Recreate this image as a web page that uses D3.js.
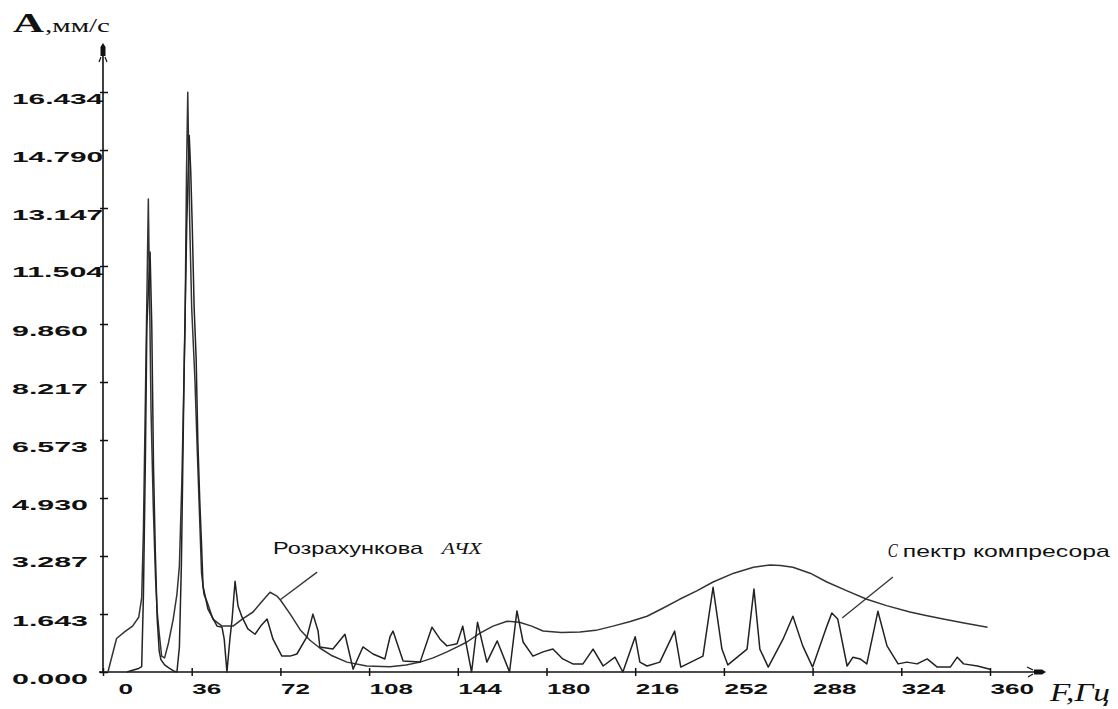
<!DOCTYPE html>
<html>
<head>
<meta charset="utf-8">
<script src="https://cdn.jsdelivr.net/npm/d3@7"></script>
<style>
  body { margin: 0; background: #fff; }
</style>
</head>
<body>
<div id="chart"></div>
<script>
// tick labels as printed on the original plot
const yTickLabels = ["0.000", "1.643", "3.287", "4.930", "6.573", "8.217", "9.860", "11.504", "13.147", "14.790", "16.434"];
const xTickValues = [0, 36, 72, 108, 144, 180, 216, 252, 288, 324, 360];

// calculated frequency response (Розрахункова АЧХ)
const respHz = [2, 5.5, 9, 12, 14.5, 15.7, 16.4, 17.2, 18.4, 19.5,
  20.4, 21.3, 22, 22.8, 23.8, 25, 26.5, 28.5, 30, 31,
  32, 32.6, 33.3, 33.9, 34.4, 35.2, 36, 37.3, 38.3, 39,
  40, 41, 42.2, 44.6, 48.3, 52.8, 56.5, 60.9, 64.5, 67.8,
  70.6, 72, 76, 80, 84, 88, 93, 99, 107, 116.5,
  123, 128.7, 134, 139.6, 144, 147.7, 153, 158.3, 164, 169,
  174, 178.6, 186, 193.6, 200, 207, 214, 220.8, 227, 234,
  241, 247.6, 256, 264, 270.7, 275, 280, 287, 293.8, 302,
  310, 318, 327.5, 334, 341, 350, 359];
const respAmp = [0, 0.95, 1.15, 1.3, 1.55, 2.1, 4.0, 7.7, 13.4, 7.4,
  4.7, 2.7, 1.7, 1.1, 0.45, 0.4, 0.8, 1.5, 2.2, 3.0,
  5.4, 7.4, 9.8, 14.2, 16.43, 12.7, 10.3, 8.3, 6.2, 4.8,
  2.8, 2.2, 2.0, 1.5, 1.3, 1.3, 1.5, 1.7, 2.0, 2.26,
  2.15, 2.04, 1.64, 1.2, 0.9, 0.68, 0.46, 0.28, 0.17, 0.15,
  0.2, 0.28, 0.4, 0.57, 0.72, 0.85, 1.1, 1.3, 1.44, 1.41,
  1.3, 1.16, 1.12, 1.13, 1.18, 1.3, 1.43, 1.58, 1.8, 2.06,
  2.3, 2.55, 2.8, 2.97, 3.03, 3.02, 2.97, 2.8, 2.55, 2.3,
  2.06, 1.88, 1.7, 1.6, 1.5, 1.38, 1.27];

// measured compressor spectrum (Спектр компресора)
const specHz = [9.7, 12, 14.5, 15.7, 16.4, 17.2, 17.8, 19.1, 19.8, 20.5,
  21.2, 22, 22.8, 23.5, 25, 27, 29, 30, 31, 31.8,
  32.3, 33, 34, 35, 35.6, 36.2, 37, 37.8, 38.5, 39.3,
  40, 40.6, 42.6, 46.3, 48.3, 49.2, 50.3, 51.5, 52.4, 53.6,
  54.8, 56.4, 58.8, 61.7, 64, 66.6, 69, 72.6, 75.9, 78.7,
  82.8, 85.2, 87.3, 88, 93.3, 98.2, 101.5, 105.5, 109.6, 114.4,
  116.5, 117.7, 121.8, 128.7, 133.5, 136.8, 139.6, 143.7, 146, 149.6,
  152, 155.8, 160, 165, 168, 170.5, 174.5, 178.6, 182.6, 186.6,
  190.7, 194.8, 198.9, 203, 207.8, 211, 216, 217.9, 220.8, 226,
  232, 234.5, 243.5, 247.6, 251.2, 253.6, 261.4, 264.2, 266.6, 270,
  276, 280, 284, 288, 293.8, 295.8, 298.2, 302, 304.4, 307.3,
  310, 314.5, 318.2, 322.7, 326.3, 330.4, 334.5, 338.6, 343.9, 346.7,
  349.3, 354.9, 360];
const specAmp = [0, 0.05, 0.1, 0.15, 2.15, 6.0, 9.8, 11.9, 9.8, 5.8,
  3.5, 1.5, 0.6, 0.35, 0.2, 0.1, 0.02, 0, 0.7, 3.0,
  5.4, 8.9, 12.7, 15.2, 14.2, 12.7, 10.3, 8.9, 6.5, 4.8,
  3.6, 2.43, 1.78, 1.3, 1.27, 0.93, 0, 0.93, 1.5, 2.57,
  1.87, 1.56, 1.22, 1.07, 1.3, 1.5, 0.93, 0.45, 0.45, 0.51,
  1.0, 1.64, 1.16, 0.71, 0.65, 1.07, 0.08, 0.71, 0.51, 0.37,
  1.0, 1.16, 0.31, 0.28, 1.27, 0.93, 0.74, 0.8, 1.3, 0,
  1.41, 0.28, 0.88, 0, 1.73, 0.85, 0.45, 0.57, 0.65, 0.37,
  0.23, 0.23, 0.65, 0.17, 0.42, 0, 1.0, 0.28, 0.17, 0.28,
  1.16, 0.14, 0.45, 2.4, 0.65, 0.2, 0.65, 2.35, 0.65, 0.14,
  0.93, 1.58, 0.74, 0.14, 1.3, 1.67, 1.5, 0.17, 0.42, 0.37,
  0.23, 1.72, 0.74, 0.23, 0.28, 0.23, 0.37, 0.14, 0.14, 0.42,
  0.23, 0.17, 0.08];

const W = 1118, H = 709;
const svg = d3.select("#chart").append("svg")
  .attr("width", W).attr("height", H)
  .style("font-family", "DejaVu Sans Mono");

const x = d3.scaleLinear().domain([0, 360]).range([103, 990]);
const y = d3.scaleLinear().domain([0, 16.434]).range([672, 92]);

const ink = "#111";

// Y axis ticks + labels (labels hang below the tick, left aligned)
const yAxis = svg.append("g")
  .attr("transform", `translate(${x(0)},0)`)
  .call(d3.axisLeft(y).tickValues(yTickLabels.map(Number)).tickFormat((d, i) => yTickLabels[i]));
yAxis.select(".domain").remove();
yAxis.selectAll("line").attr("x1", -3).attr("x2", 5).attr("stroke", ink).attr("stroke-width", 1.5);
yAxis.selectAll("text")
  .attr("x", 12 - x(0)).attr("y", 11).attr("dy", null)
  .attr("text-anchor", "start")
  .attr("fill", ink)
  .style("font-size", "15px").style("font-weight", "bold")
  .attr("textLength", function() { return this.textContent.length * 15.2; })
  .attr("lengthAdjust", "spacingAndGlyphs");

// X axis ticks + labels
const xAxis = svg.append("g")
  .attr("transform", `translate(0,${y(0)})`)
  .call(d3.axisBottom(x).tickValues(xTickValues).tickFormat(d3.format("d")));
xAxis.select(".domain").remove();
xAxis.selectAll("line").attr("y1", -4).attr("y2", 4).attr("stroke", ink).attr("stroke-width", 1.5);
xAxis.selectAll("text")
  .attr("x", function() { return this.textContent.length === 1 ? 15 : 0; })
  .attr("y", 22).attr("dy", null)
  .attr("text-anchor", "start")
  .attr("fill", ink)
  .style("font-size", "15px").style("font-weight", "bold")
  .attr("textLength", function() { return this.textContent.length * 14.5; })
  .attr("lengthAdjust", "spacingAndGlyphs");

// axis lines with arrows
svg.append("line")
  .attr("x1", x(0)).attr("x2", x(0)).attr("y1", 46).attr("y2", y(0) + 1)
  .attr("stroke", ink).attr("stroke-width", 1.6);
svg.append("line")
  .attr("x1", x(0) - 4).attr("x2", 1044).attr("y1", y(0)).attr("y2", y(0))
  .attr("stroke", ink).attr("stroke-width", 1.6);

const ax = x(0);
svg.append("path")
  .attr("d", `M${ax},43 L${ax + 2.5},47 L${ax + 2.5},56 L${ax - 2.5},56 L${ax - 2.5},47 Z`)
  .attr("fill", ink);
svg.append("path")
  .attr("d", `M${ax - 2},57 L${ax - 4},62 M${ax + 2},57 L${ax + 4},62`)
  .attr("stroke", ink).attr("stroke-width", 1.2).attr("fill", "none");

const ay = y(0);
svg.append("path")
  .attr("d", `M1046,${ay} L1042,${ay - 2.5} L1034,${ay - 2.5} L1034,${ay + 2.5} L1042,${ay + 2.5} Z`)
  .attr("fill", ink);
svg.append("path")
  .attr("d", `M1033,${ay - 2} L1027,${ay - 5} M1033,${ay + 2} L1028,${ay + 5}`)
  .attr("stroke", ink).attr("stroke-width", 1.2).attr("fill", "none");

// curves
const line = d3.line().x(d => x(d[0])).y(d => y(d[1]));

svg.append("path")
  .datum(d3.zip(respHz, respAmp))
  .attr("d", line)
  .attr("fill", "none")
  .attr("stroke", "#333")
  .attr("stroke-width", 1.5)
  .attr("stroke-linejoin", "round");

svg.append("path")
  .datum(d3.zip(specHz, specAmp))
  .attr("d", line)
  .attr("fill", "none")
  .attr("stroke", "#222")
  .attr("stroke-width", 1.5)
  .attr("stroke-linejoin", "round");

// axis titles
svg.append("text")
  .attr("x", 13).attr("y", 32)
  .style("font-family", "Liberation Serif")
  .style("font-size", "28px")
  .style("font-weight", "bold")
  .attr("fill", ink)
  .attr("textLength", 31).attr("lengthAdjust", "spacingAndGlyphs")
  .text("A");
svg.append("text")
  .attr("x", 45).attr("y", 32)
  .style("font-family", "Liberation Serif")
  .style("font-size", "19px")
  .attr("fill", ink)
  .attr("textLength", 65).attr("lengthAdjust", "spacingAndGlyphs")
  .text(",мм/с");

svg.append("text")
  .attr("x", 1050).attr("y", 701)
  .style("font-family", "Liberation Serif")
  .style("font-style", "italic")
  .style("font-size", "26px")
  .attr("fill", ink)
  .attr("textLength", 60).attr("lengthAdjust", "spacingAndGlyphs")
  .text("F,Гц");

// annotations (anchored in data units)
const ann = svg.append("g").attr("fill", ink);

svg.append("line")
  .attr("x1", x(71.8)).attr("y1", y(2.04))
  .attr("x2", x(86.9)).attr("y2", y(2.83))
  .attr("stroke", "#333").attr("stroke-width", 1.3);
ann.append("text")
  .attr("x", x(69)).attr("y", y(3.33))
  .style("font-family", "Liberation Sans").style("font-size", "17px")
  .attr("textLength", 150).attr("lengthAdjust", "spacingAndGlyphs")
  .text("Розрахункова");
ann.append("text")
  .attr("x", x(137.5)).attr("y", y(3.33))
  .style("font-family", "Liberation Serif").style("font-style", "italic").style("font-size", "17px")
  .attr("textLength", 40).attr("lengthAdjust", "spacingAndGlyphs")
  .text("АЧХ");

svg.append("line")
  .attr("x1", x(320.6)).attr("y1", y(2.69))
  .attr("x2", x(300)).attr("y2", y(1.53))
  .attr("stroke", "#333").attr("stroke-width", 1.3);
ann.append("text")
  .attr("x", x(318.5)).attr("y", y(3.26))
  .style("font-family", "Liberation Serif").style("font-style", "italic").style("font-size", "19px")
  .attr("textLength", 10).attr("lengthAdjust", "spacingAndGlyphs")
  .text("С");
ann.append("text")
  .attr("x", x(324.6)).attr("y", y(3.26))
  .style("font-family", "Liberation Sans").style("font-size", "17px")
  .attr("textLength", 207).attr("lengthAdjust", "spacingAndGlyphs")
  .text("пектр компресора");
</script>
</body>
</html>
